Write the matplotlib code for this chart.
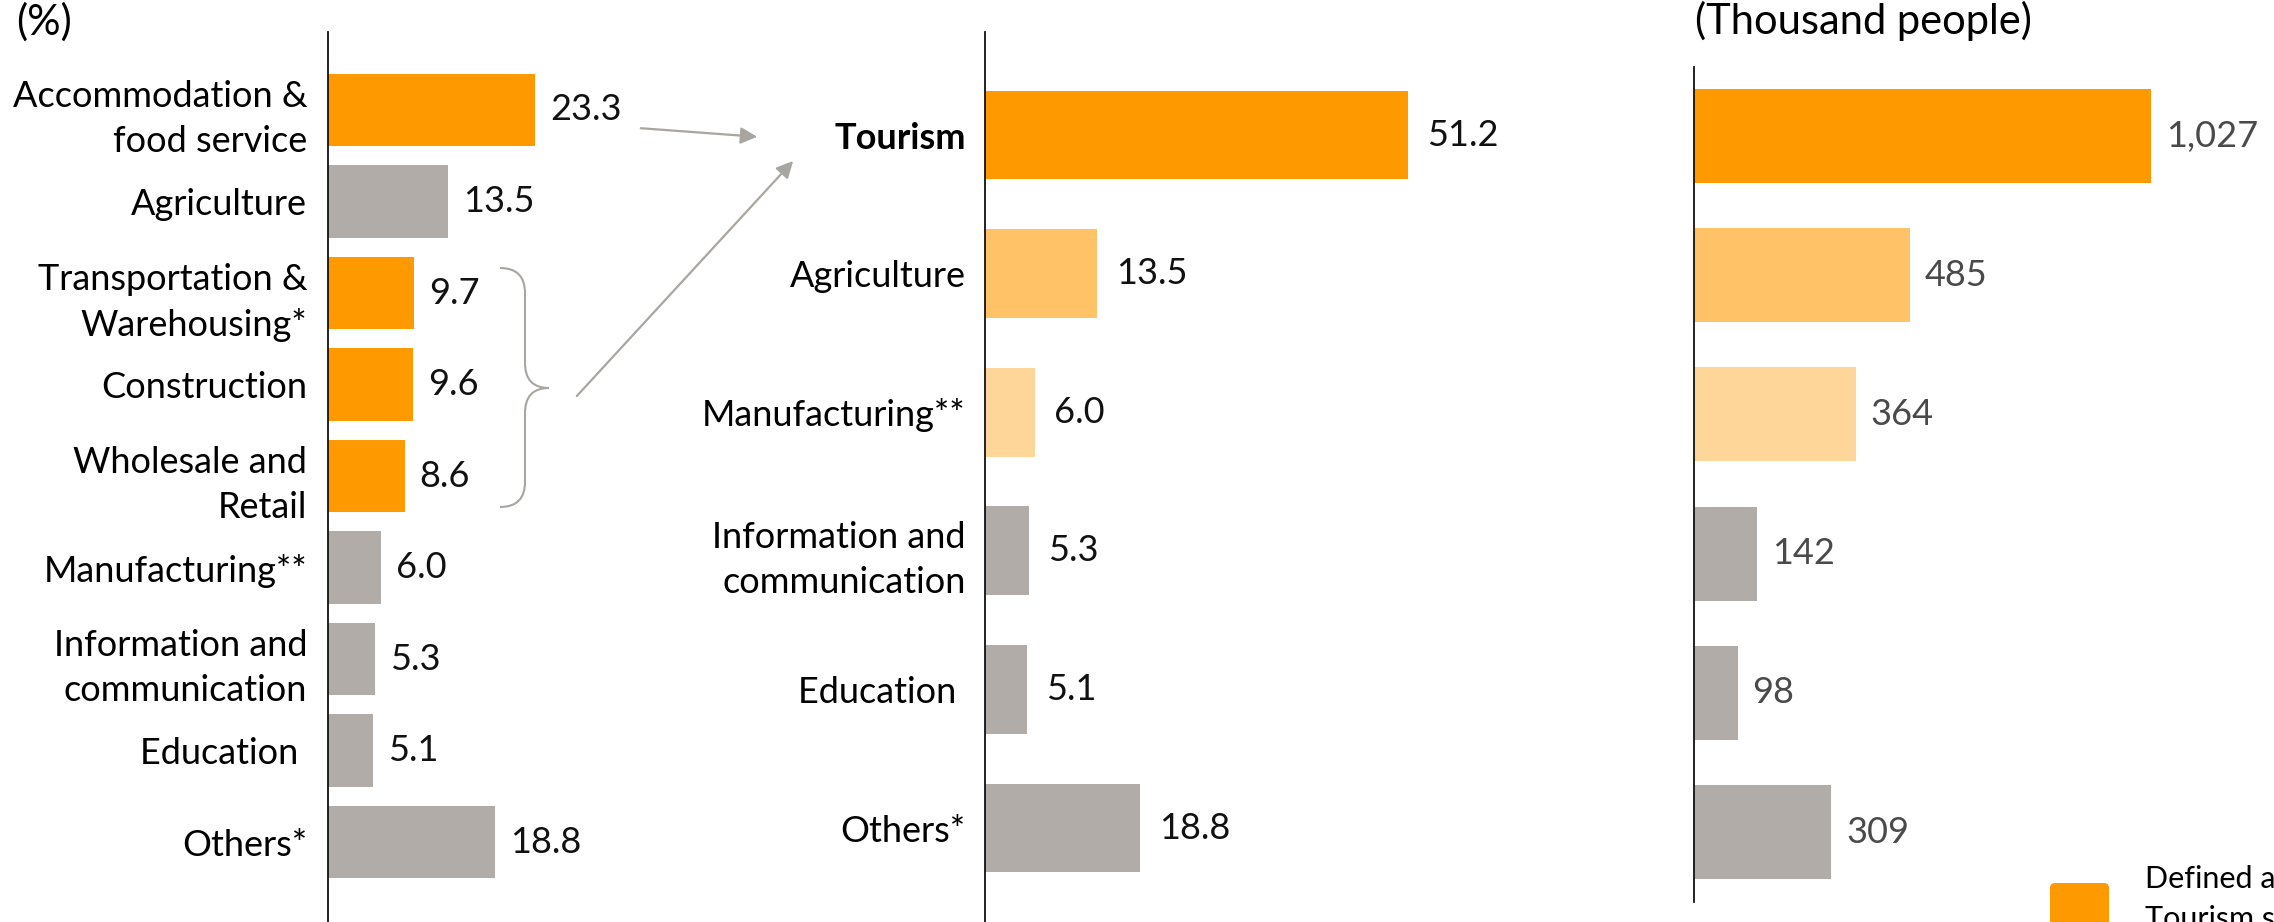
import matplotlib
matplotlib.use("Agg")
import matplotlib.pyplot as plt
from matplotlib.patches import FancyArrowPatch, FancyBboxPatch, PathPatch
from matplotlib.path import Path
from matplotlib.transforms import Affine2D

plt.rcParams["font.family"] = ["Lato", "DejaVu Sans"]
plt.rcParams["font.size"] = 26

W, H, DPI = 2274, 922, 100

ORANGE = "#FF9900"
ORANGE_MID = "#FFC266"
ORANGE_LIGHT = "#FFD699"
GREY = "#B1ACA8"
LINE_GREY = "#A9A5A1"

# employment share by sector (%)
sectors = ["Accommodation &\nfood service", "Agriculture", "Transportation &\nWarehousing*",
           "Construction", "Wholesale and\nRetail", "Manufacturing**",
           "Information and\ncommunication", "Education ", "Others*"]
sector_share = [23.3, 13.5, 9.7, 9.6, 8.6, 6.0, 5.3, 5.1, 18.8]
sector_colors = [ORANGE, GREY, ORANGE, ORANGE, ORANGE, GREY, GREY, GREY, GREY]

# same sectors with the tourism-related ones merged
groups = ["Tourism", "Agriculture", "Manufacturing**",
          "Information and\ncommunication", "Education ", "Others*"]
group_share = [51.2, 13.5, 6.0, 5.3, 5.1, 18.8]
group_people = [1027, 485, 364, 142, 98, 309]
group_colors = [ORANGE, ORANGE_MID, ORANGE_LIGHT, GREY, GREY, GREY]

fig = plt.figure(figsize=(W / DPI, H / DPI), dpi=DPI)
# pixel coords with origin at top-left
px = Affine2D().scale(1 / DPI).scale(1, -1).translate(0, H / DPI) + fig.dpi_scale_trans


def panel(x0, y_top, y_bot, px_per_unit, xmax, first, step):
    ax = fig.add_axes([x0 / W, 1 - y_bot / H, px_per_unit * xmax / W, (y_bot - y_top) / H])
    ax.set_xlim(0, xmax)
    ax.set_ylim((y_bot - first) / step, -(first - y_top) / step)
    for s in ("top", "right", "bottom"):
        ax.spines[s].set_visible(False)
    ax.spines["left"].set_linewidth(1.3)
    ax.spines["left"].set_color("#111111")
    ax.set_xticks([])
    ax.patch.set_alpha(0)
    return ax


def bars(ax, vals, colors, height, fmt, gap, labels=None, pad=0, tcolor="#111111"):
    ys = range(len(vals))
    ax.barh(ys, vals, height=height, color=colors)
    for y, v in zip(ys, vals):
        ax.annotate(fmt(v), (v, y), xytext=(gap, 0), textcoords="offset pixels",
                    va="center", ha="left", color=tcolor)
    if labels is None:
        ax.set_yticks([])
    else:
        ax.set_yticks(list(ys), labels, linespacing=1.45)
        ax.tick_params(axis="y", length=0, pad=pad)


ax1 = panel(328, 32, 922, 8.9, 30, 110, 91.5)
bars(ax1, sector_share, sector_colors, 0.79, lambda v: f"{v:.1f}", 15, sectors, pad=15)

ax2 = panel(985, 32, 922, 8.27, 60, 135, 138.6)
bars(ax2, group_share, group_colors, 0.64, lambda v: f"{v:.1f}", 19, groups, pad=14)
ax2.get_yticklabels()[0].set_fontweight("bold")

ax3 = panel(1694, 67, 902, 0.4447, 1250, 136, 139.2)
bars(ax3, group_people, group_colors, 0.675, lambda v: f"{v:,}", 15, tcolor="#4A4A4A")

fig.text(16, 35, "(%)", transform=px, va="baseline", ha="left", fontsize=30)
fig.text(1695, 34, "(Thousand people)", transform=px, va="baseline", ha="left", fontsize=30)

# accommodation -> tourism
fig.add_artist(FancyArrowPatch((638, 128), (760, 137), transform=px,
                               arrowstyle="-|>,head_length=1.0,head_width=0.5",
                               mutation_scale=10, color=LINE_GREY, lw=1.6))
# bracketed sectors -> tourism
fig.add_artist(FancyArrowPatch((575, 398), (795, 159), transform=px,
                               arrowstyle="-|>,head_length=1.0,head_width=0.5",
                               mutation_scale=10, color=LINE_GREY, lw=1.6))

# curly brace around transport / construction / wholesale
bx0, bx1, btip = 500, 525, 549
by0, bmid, by1 = 268, 388, 507
r = 25
verts = [(bx0, by0), (bx1, by0), (bx1, by0 + r),
         (bx1, bmid - r),
         (bx1, bmid), (btip, bmid),
         (bx1, bmid), (bx1, bmid + r),
         (bx1, by1 - r),
         (bx1, by1), (bx0, by1)]
codes = [Path.MOVETO, Path.CURVE3, Path.CURVE3,
         Path.LINETO,
         Path.CURVE3, Path.CURVE3,
         Path.CURVE3, Path.CURVE3,
         Path.LINETO,
         Path.CURVE3, Path.CURVE3]
fig.add_artist(PathPatch(Path(verts, codes), transform=px, fill=False,
                         edgecolor=LINE_GREY, lw=1.5))

# legend (runs off the right edge)
fig.add_artist(FancyBboxPatch((2050, 883), 59, 59, transform=px,
                              boxstyle="round,pad=0,rounding_size=5",
                              facecolor=ORANGE, edgecolor="none"))
fig.text(2145, 928, "Defined as\nTourism sector", transform=px, va="baseline",
         ha="left", fontsize=22, linespacing=1.5)

fig.savefig("out.png", dpi=DPI)
